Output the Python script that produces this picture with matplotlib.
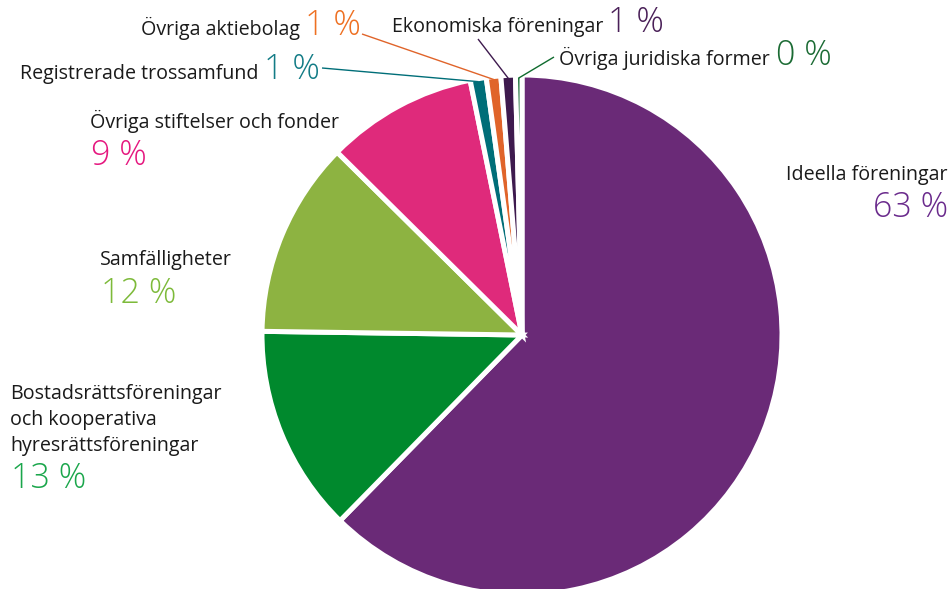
import numpy as np
import matplotlib
matplotlib.use("Agg")
import matplotlib.pyplot as plt

# ── Data ─────────────────────────────────────────────────────────────────────
labels = ["Ideella föreningar",
          "Bostadsrättsföreningar\noch kooperativa\nhyresrättsföreningar",
          "Samfälligheter",
          "Övriga stiftelser och fonder",
          "Registrerade trossamfund",
          "Övriga aktiebolag",
          "Ekonomiska föreningar",
          "Övriga juridiska former"]
shares = [62.4, 12.9, 12.2, 9.4, 1.0, 0.9, 0.9, 0.4]
pct_text = ["63 %", "13 %", "12 %", "9 %", "1 %", "1 %", "1 %", "0 %"]

slice_colors = ["#6a2a77", "#00892d", "#8db341", "#df2a7b",
                "#006e78", "#e0642a", "#3e1a4e", "#0f6b2e"]
pct_colors = ["#6a2a8c", "#1aa64b", "#7dba3a", "#e5177f",
              "#137c86", "#ee7022", "#4a2058", "#1b6b34"]

W, H = 953, 589
CX, CY, R = 522, 335, 260      # pie centre / radius in pixels (from top)


def Y(py):
    return H - py


fig = plt.figure(figsize=(W / 100, H / 100), dpi=100)
ax = fig.add_axes([0, 0, 1, 1])

wedges, _ = ax.pie(shares, colors=slice_colors, startangle=90, counterclock=False,
                   center=(CX, Y(CY)), radius=R,
                   wedgeprops=dict(edgecolor="white", linewidth=3.6))
ax.set_xlim(0, W)
ax.set_ylim(0, H)
ax.set_aspect("equal")
ax.axis("off")

LBL = dict(family="Open Sans", fontsize=14.1, color="#1a1a1a")
PCT = dict(family="Open Sans", fontweight="light", fontsize=24.5)

# ── Big labels (name + percent below) ────────────────────────────────────────
# (index, x, baseline of last name line, pct baseline, ha)
big = [(0, 948, 180, 217, "right"),
       (1, 10, 451, 488, "left"),
       (2, 100, 265, 303, "left"),
       (3, 90, 128, 165, "left")]
for i, x, yb, yp, ha in big:
    ax.text(x, Y(yb), labels[i], ha=ha, va="baseline", linespacing=1.4, **LBL)
    ax.text(x + (0 if ha == "right" else 1), Y(yp), pct_text[i], ha=ha,
            va="baseline", color=pct_colors[i], **PCT)

# ── Small slices with leader lines ───────────────────────────────────────────
# (index, name anchor x, baseline, line start x, line start y)
small = [(4, 259, 79, 322, 68),
         (5, 300, 35, 362, 34),
         (6, 603, 32, 478, 39),
         (7, 559, 65, 554, 57)]
for i, xa, yb, lx, ly in small:
    if i == 7:
        t = ax.text(xa, Y(yb), labels[i], ha="left", va="baseline", **LBL)
        fig.canvas.draw()
        bb = t.get_window_extent()
        ax.text(bb.x1 + 6, Y(yb), pct_text[i], ha="left", va="baseline",
                color=pct_colors[i], **PCT)
    else:
        ax.text(xa, Y(yb), labels[i], ha="right", va="baseline", **LBL)
        ax.text(xa + 5, Y(yb), pct_text[i], ha="left", va="baseline",
                color=pct_colors[i], **PCT)
    w = wedges[i]
    mid = np.deg2rad((w.theta1 + w.theta2) / 2)
    ex = CX + (R - 3) * np.cos(mid)
    ey = Y(CY) + (R - 3) * np.sin(mid)
    ax.plot([lx, ex], [Y(ly), ey], color=slice_colors[i], lw=1.0,
            solid_capstyle="butt")

fig.savefig("out.png", dpi=100)
